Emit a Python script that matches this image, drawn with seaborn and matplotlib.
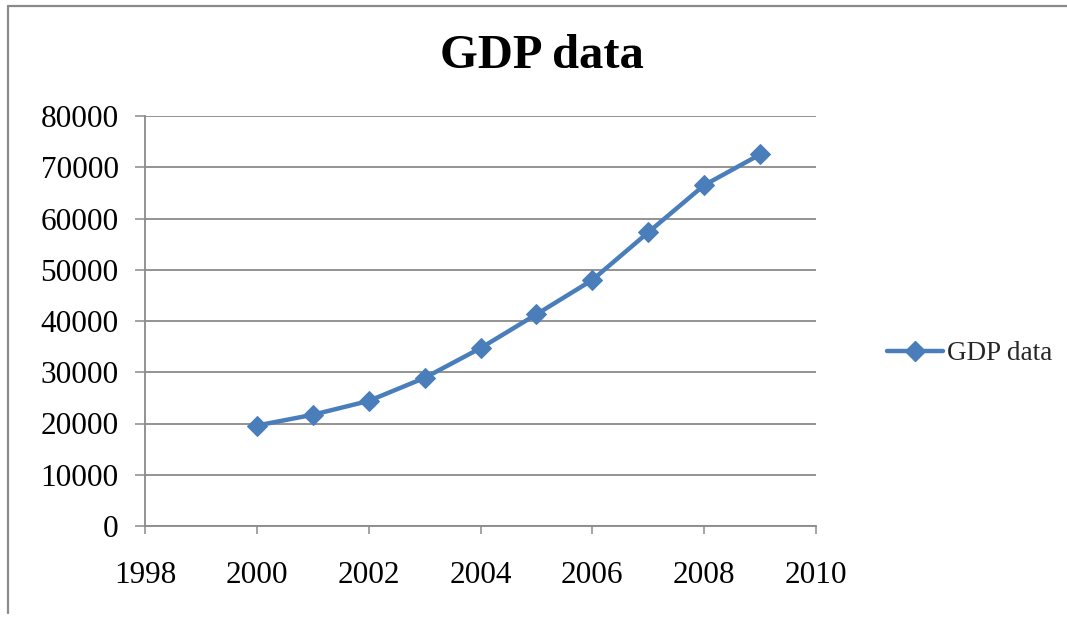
import pandas as pd
import matplotlib.pyplot as plt
import seaborn as sns
from matplotlib.lines import Line2D

years = [2000, 2001, 2002, 2003, 2004, 2005, 2006, 2007, 2008, 2009]
gdp = [19600, 21700, 24400, 28900, 34700, 41300, 48000, 57300, 66500, 72500]
x_ticks = [1998, 2000, 2002, 2004, 2006, 2008, 2010]
y_ticks = [0, 10000, 20000, 30000, 40000, 50000, 60000, 70000, 80000]

df = pd.DataFrame({"year": years, "GDP data": gdp})

sns.set_theme(style="white")
plt.rcParams["font.family"] = ["Liberation Serif", "DejaVu Serif"]

W, H = 1067, 617
fig = plt.figure(figsize=(W / 100, H / 100), dpi=100)
ax = fig.add_axes([145 / W, 1 - 526 / H, (816 - 145) / W, (526 - 116) / H])

blue = "#4a7ebb"
grid_grey = "#8a8a8a"

sns.lineplot(data=df, x="year", y="GDP data", ax=ax, color=blue,
             linewidth=3.2, marker="D", markersize=10.5,
             markeredgecolor=blue, label="GDP data", legend=False)

ax.set_xlim(1998, 2010)
ax.set_ylim(0, 80000)
ax.set_xticks(x_ticks)
ax.set_yticks(y_ticks)
ax.set_xlabel("")
ax.set_ylabel("")

ax.yaxis.grid(True, color=grid_grey, linewidth=1.3)
ax.xaxis.grid(False)
ax.set_axisbelow(True)
for side in ["top", "right"]:
    ax.spines[side].set_visible(False)
for side in ["left", "bottom"]:
    ax.spines[side].set_color(grid_grey)
    ax.spines[side].set_linewidth(1.3)

ax.tick_params(axis="x", direction="out", length=6, width=1.1, color=grid_grey,
               pad=19.5, labelsize=22.5, labelcolor="black", bottom=True)
ax.tick_params(axis="y", direction="out", length=7, width=1.1, color=grid_grey,
               pad=12, labelsize=22.5, labelcolor="black", left=True)

fig.text(542 / W, 1 - 56 / H, "GDP data", ha="center", va="center",
         fontsize=35, fontweight="bold", color="black")

handle = Line2D([], [], color=blue, linewidth=3.2, marker="D", markersize=10.5,
                markeredgecolor=blue)
fig.legend([handle], ["GDP data"], loc="center left",
           bbox_to_anchor=(887 / W, 1 - 354 / H), frameon=False,
           fontsize=19.5, handlelength=2.05, handletextpad=0.15,
           borderpad=0, borderaxespad=0)

# chart frame (partly cropped, as in the reference)
fig.add_artist(Line2D([8 / W, 1.0], [1 - 6 / H, 1 - 6 / H],
                      transform=fig.transFigure, color=grid_grey, linewidth=1.6))
fig.add_artist(Line2D([8 / W, 8 / W], [1 - 6 / H, 1 - 613 / H],
                      transform=fig.transFigure, color=grid_grey, linewidth=1.6))

fig.savefig("out.png", dpi=100)
